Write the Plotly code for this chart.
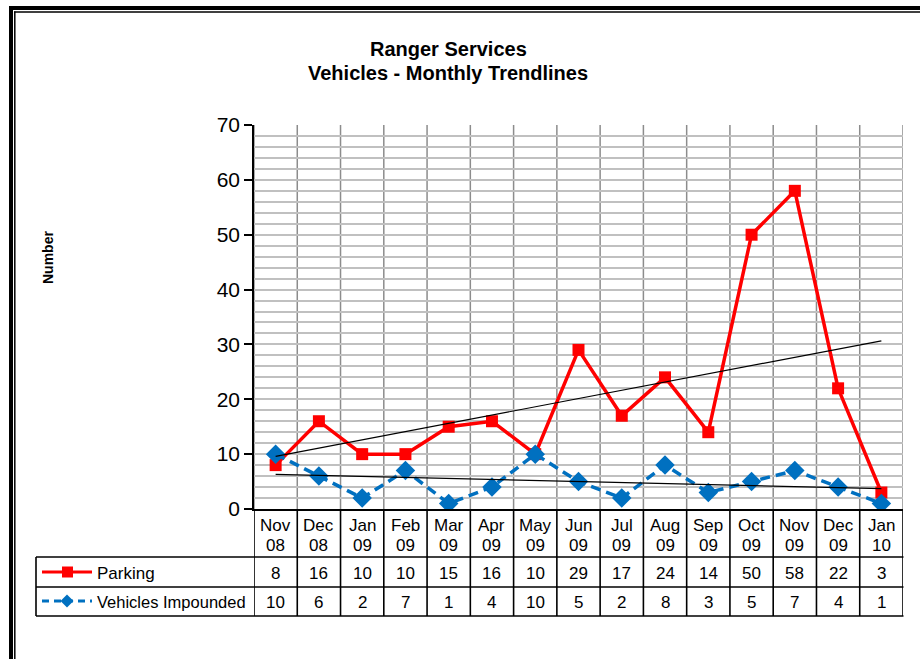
import plotly.graph_objects as go
import numpy as np

month_top = ["Nov", "Dec", "Jan", "Feb", "Mar", "Apr", "May", "Jun", "Jul", "Aug", "Sep", "Oct", "Nov", "Dec", "Jan"]
month_bot = ["08", "08", "09", "09", "09", "09", "09", "09", "09", "09", "09", "09", "09", "09", "10"]
parking = [8, 16, 10, 10, 15, 16, 10, 29, 17, 24, 14, 50, 58, 22, 3]
impounded = [10, 6, 2, 7, 1, 4, 10, 5, 2, 8, 3, 5, 7, 4, 1]
series_names = ["Parking", "Vehicles Impounded"]

W, H = 920, 659
def px(x): return x / W
def py(y): return 1 - y / H

FONT = "Arial, Liberation Sans, sans-serif"
RED = "#FF0000"
BLUE = "#0070C0"

xs = np.arange(1, len(month_top) + 1)

def trend(vals):
    m, b = np.polyfit(xs, vals, 1)
    return [m * xs[0] + b, m * xs[-1] + b]

fig = go.Figure()
fig.add_trace(go.Scatter(x=xs, y=parking, mode="lines+markers", name=series_names[0],
                         line=dict(color=RED, width=3.5),
                         marker=dict(symbol="square", size=12, color=RED)))
fig.add_trace(go.Scatter(x=xs, y=impounded, mode="lines+markers", name=series_names[1],
                         line=dict(color=BLUE, width=3.5, dash="10px,6px"),
                         marker=dict(symbol="diamond", size=15, color=BLUE)))
fig.add_trace(go.Scatter(x=[xs[0], xs[-1]], y=trend(parking), mode="lines",
                         line=dict(color="black", width=1.2), hoverinfo="skip"))
fig.add_trace(go.Scatter(x=[xs[0], xs[-1]], y=trend(impounded), mode="lines",
                         line=dict(color="black", width=1.2), hoverinfo="skip"))

shapes = []
annotations = []
n = len(month_top)
for i in range(n + 1):
    xv = 0.5 + i
    shapes.append(dict(type="line", xref="x", yref="y", x0=xv, x1=xv, y0=0, y1=70,
                       line=dict(color="#8C8C8C", width=1.5), layer="below"))

y_top, y_hdr, y_r1, y_r2 = 509, 557, 587, 616
tl = dict(color="black", width=1.6)
for i in range(n + 1):
    xv = 0.5 + i
    shapes.append(dict(type="line", xref="x", yref="paper", x0=xv, x1=xv,
                       y0=py(y_top), y1=py(y_r2), line=tl))
for yy in (y_hdr, y_r1, y_r2):
    shapes.append(dict(type="line", xref="paper", yref="paper", x0=px(36), x1=px(903.5),
                       y0=py(yy), y1=py(yy), line=tl))
shapes.append(dict(type="line", xref="paper", yref="paper", x0=px(36), x1=px(36),
                   y0=py(y_hdr), y1=py(y_r2), line=tl))

tf = dict(family=FONT, size=17, color="black")
for i in range(n):
    annotations.append(dict(x=xs[i], y=py(525.5), xref="x", yref="paper", text=month_top[i], showarrow=False,
                            font=tf, xanchor="center", yanchor="middle"))
    annotations.append(dict(x=xs[i], y=py(545.5), xref="x", yref="paper", text=month_bot[i], showarrow=False,
                            font=tf, xanchor="center", yanchor="middle"))
    annotations.append(dict(x=xs[i], y=py(573), xref="x", yref="paper", text=str(parking[i]), showarrow=False,
                            font=tf, xanchor="center", yanchor="middle"))
    annotations.append(dict(x=xs[i], y=py(602), xref="x", yref="paper", text=str(impounded[i]), showarrow=False,
                            font=tf, xanchor="center", yanchor="middle"))

shapes.append(dict(type="line", xref="paper", yref="paper", x0=px(42), x1=px(92), y0=py(572), y1=py(572),
                   line=dict(color=RED, width=3)))
shapes.append(dict(type="rect", xref="paper", yref="paper", x0=px(62), x1=px(73), y0=py(566.5), y1=py(577.5),
                   fillcolor=RED, line=dict(color=RED, width=0)))
shapes.append(dict(type="line", xref="paper", yref="paper", x0=px(42), x1=px(92), y0=py(601), y1=py(601),
                   line=dict(color=BLUE, width=3, dash="7px,5px")))
cx, cy, r = 67, 601, 6.5
shapes.append(dict(type="path", xref="paper", yref="paper",
                   path=f"M {px(cx-r)} {py(cy)} L {px(cx)} {py(cy-r)} L {px(cx+r)} {py(cy)} L {px(cx)} {py(cy+r)} Z",
                   fillcolor=BLUE, line=dict(color=BLUE, width=0)))
annotations.append(dict(x=px(95), y=py(573), xref="paper", yref="paper", text=series_names[0], showarrow=False,
                        font=tf, xanchor="left", yanchor="middle"))
annotations.append(dict(x=px(95), y=py(602), xref="paper", yref="paper", text=series_names[1], showarrow=False,
                        font=dict(family=FONT, size=16.5, color="black"), xanchor="left", yanchor="middle"))

annotations.append(dict(x=px(448), y=py(49), xref="paper", yref="paper", text="<b>Ranger Services</b>",
                        showarrow=False, font=dict(family=FONT, size=20, color="black"),
                        xanchor="center", yanchor="middle"))
annotations.append(dict(x=px(448), y=py(73), xref="paper", yref="paper", text="<b>Vehicles - Monthly Trendlines</b>",
                        showarrow=False, font=dict(family=FONT, size=20, color="black"),
                        xanchor="center", yanchor="middle"))
annotations.append(dict(x=px(48), y=py(258), xref="paper", yref="paper", text="<b>Number</b>", showarrow=False,
                        textangle=-90, font=dict(family=FONT, size=14, color="black"),
                        xanchor="center", yanchor="middle"))

fr = "black"
shapes.append(dict(type="line", xref="paper", yref="paper", x0=px(9), x1=1, y0=py(8), y1=py(8),
                   line=dict(color=fr, width=4)))
shapes.append(dict(type="line", xref="paper", yref="paper", x0=px(14), x1=1, y0=py(12), y1=py(12),
                   line=dict(color=fr, width=1.5)))
shapes.append(dict(type="line", xref="paper", yref="paper", x0=px(11), x1=px(11), y0=py(6), y1=0,
                   line=dict(color=fr, width=4)))
shapes.append(dict(type="line", xref="paper", yref="paper", x0=px(14.8), x1=px(14.8), y0=py(11.5), y1=0,
                   line=dict(color=fr, width=1.5)))

fig.update_layout(
    width=W, height=H, margin=dict(l=0, r=0, t=0, b=0, pad=0, autoexpand=False),
    paper_bgcolor="white", plot_bgcolor="white", showlegend=False,
    shapes=shapes, annotations=annotations,
    xaxis=dict(domain=[px(254), px(903)], range=[0.5, n + 0.5], showticklabels=False,
               showgrid=False, zeroline=False, showline=True, linecolor="black", linewidth=1.6,
               ticks="", fixedrange=True, automargin=False),
    yaxis=dict(domain=[py(509), py(125)], range=[0, 70], dtick=10, tick0=0,
               showgrid=True, gridcolor="#C0C0C0", gridwidth=1.5,
               minor=dict(dtick=2, showgrid=True, gridcolor="#C0C0C0", gridwidth=1.5),
               zeroline=False, showline=True, linecolor="black", linewidth=1.6,
               ticks="outside", ticklen=8, tickwidth=1.6, tickcolor="black", automargin=False,
               tickfont=dict(family=FONT, size=21, color="black"), fixedrange=True),
)

fig.write_html("out.html")
